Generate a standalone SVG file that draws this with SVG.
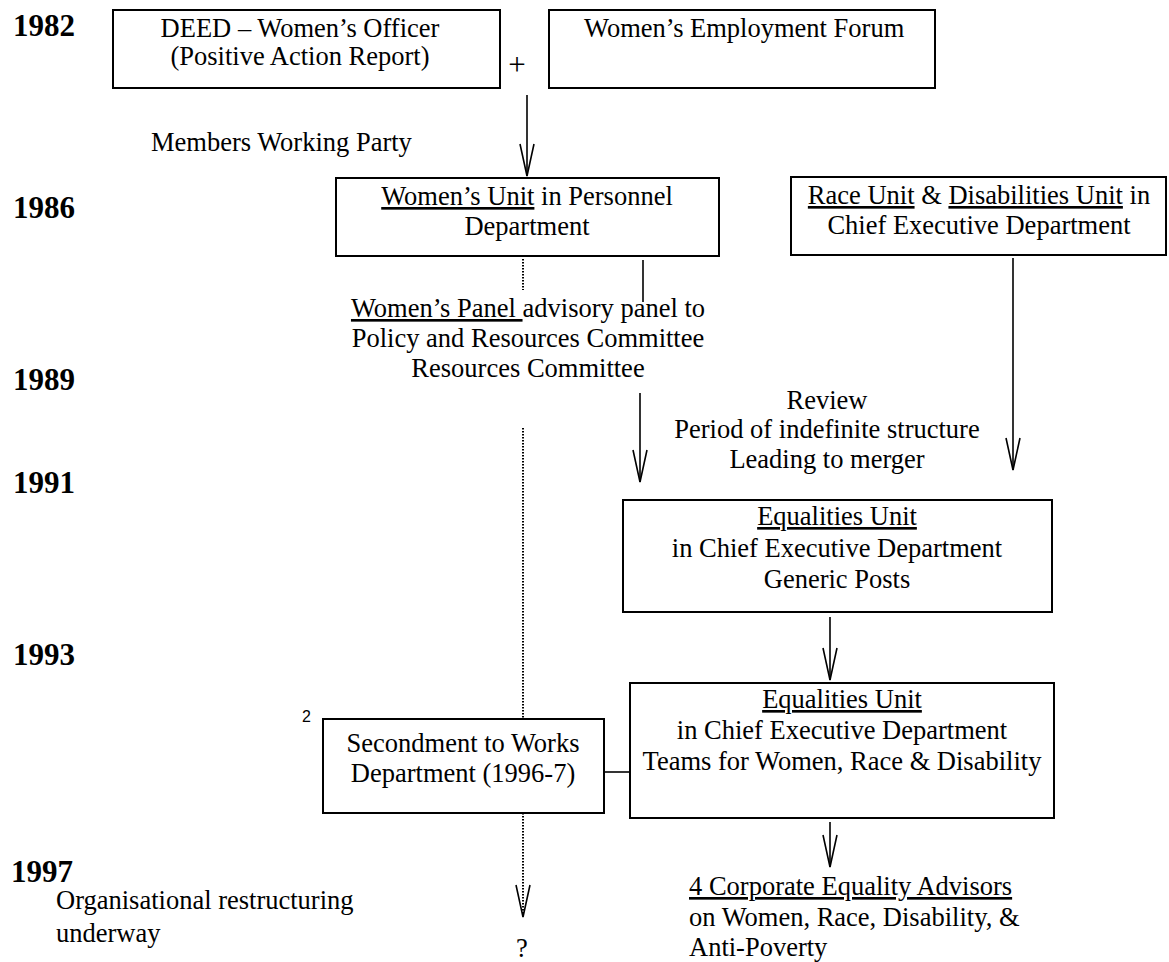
<svg xmlns="http://www.w3.org/2000/svg" width="1169" height="962" viewBox="0 0 1169 962">
  <defs>
    <style>
      .t { font-family: "Liberation Serif", "Times New Roman", serif; font-size: 26.5px; fill: #000; }
      .c { text-anchor: middle; }
      .yr { font-family: "Liberation Serif", "Times New Roman", serif; font-size: 31px; font-weight: bold; fill: #000; }
      .u { text-decoration: underline; }
      .box { fill: #fff; stroke: #000; stroke-width: 2; }
      .ln { fill: none; stroke: #000; stroke-width: 1.6; }
      .dot { fill: none; stroke: #000; stroke-width: 2; stroke-dasharray: 1.5 1.5; }
      .arr { marker-end: url(#vee); }
    </style>
    <!-- open V arrowhead -->
    <marker id="vee" viewBox="0 0 32 14" markerWidth="32" markerHeight="14" refX="32" refY="7" orient="auto" markerUnits="userSpaceOnUse" overflow="visible">
      <path d="M0,0 L32,7 L0,14" fill="none" stroke="#000" stroke-width="1.6"/>
    </marker>
  </defs>

  <rect width="1169" height="962" fill="#fff"/>

  <!-- year labels -->
  <g id="years">
    <text class="yr" x="13" y="36">1982</text>
    <text class="yr" x="13" y="218">1986</text>
    <text class="yr" x="13" y="390">1989</text>
    <text class="yr" x="13" y="493">1991</text>
    <text class="yr" x="13" y="665">1993</text>
    <text class="yr" x="11" y="882">1997</text>
  </g>

  <!-- connectors -->
  <g id="connectors">
    <line class="ln arr" x1="527" y1="95" x2="527" y2="176"/>
    <line class="dot" x1="523" y1="259" x2="523" y2="290"/>
    <line class="ln" x1="643" y1="260" x2="643" y2="302"/>
    <line class="ln arr" x1="640" y1="393" x2="640" y2="482"/>
    <line class="ln arr" x1="1013" y1="258" x2="1013" y2="470"/>
    <line class="dot" x1="523" y1="428" x2="523" y2="719"/>
    <line class="ln arr" x1="830" y1="617" x2="830" y2="680"/>
    <line class="ln" x1="604" y1="772" x2="630" y2="772"/>
    <line class="dot arr" x1="523" y1="813" x2="523" y2="917"/>
    <line class="ln arr" x1="830" y1="822" x2="830" y2="867"/>
  </g>

  <g id="deed">
    <rect class="box" x="113" y="10" width="387" height="78"/>
    <text class="t c" x="300" y="37">DEED – Women’s Officer</text>
    <text class="t c" x="300" y="65">(Positive Action Report)</text>
  </g>

  <g id="plus">
    <text class="c" x="517" y="75" font-family="Liberation Serif, Times New Roman, serif" font-size="31">+</text>
  </g>

  <g id="forum">
    <rect class="box" x="549" y="10" width="386" height="78"/>
    <text class="t" x="584" y="37">Women’s Employment Forum</text>
  </g>

  <g id="members-working-party">
    <text class="t" x="151" y="151">Members Working Party</text>
  </g>

  <g id="womens-unit">
    <rect class="box" x="336" y="178" width="383" height="78"/>
    <text class="t c" x="527" y="205"><tspan class="u">Women’s Unit</tspan> in Personnel</text>
    <text class="t c" x="527" y="235">Department</text>
  </g>

  <g id="race-disabilities-unit">
    <rect class="box" x="791" y="177" width="375" height="78"/>
    <text class="t c" x="979" y="204"><tspan class="u">Race Unit</tspan> &amp; <tspan class="u">Disabilities Unit</tspan> in</text>
    <text class="t c" x="979" y="234">Chief Executive Department</text>
  </g>

  <g id="womens-panel">
    <text class="t c" x="528" y="317"><tspan class="u">Women’s Panel </tspan>advisory panel to</text>
    <text class="t c" x="528" y="347">Policy and Resources Committee</text>
    <text class="t c" x="528" y="377">Resources Committee</text>
  </g>

  <g id="review">
    <text class="t c" x="827" y="409">Review</text>
    <text class="t c" x="827" y="438">Period of indefinite structure</text>
    <text class="t c" x="827" y="468">Leading to merger</text>
  </g>

  <g id="equalities-1991">
    <rect class="box" x="623" y="500" width="429" height="112"/>
    <text class="t c" x="837" y="525"><tspan class="u">Equalities Unit</tspan></text>
    <text class="t c" x="837" y="557">in Chief Executive Department</text>
    <text class="t c" x="837" y="588">Generic Posts</text>
  </g>

  <g id="equalities-1993">
    <rect class="box" x="630" y="683" width="424" height="135"/>
    <text class="t c" x="842" y="708"><tspan class="u">Equalities Unit</tspan></text>
    <text class="t c" x="842" y="739">in Chief Executive Department</text>
    <text class="t c" x="842" y="770">Teams for Women, Race &amp; Disability</text>
  </g>

  <g id="secondment">
    <text x="302" y="722" font-family="Liberation Sans, Arial, sans-serif" font-size="16">2</text>
    <rect class="box" x="323" y="719" width="281" height="94"/>
    <text class="t c" x="463" y="752">Secondment to Works</text>
    <text class="t c" x="463" y="782">Department (1996-7)</text>
  </g>

  <g id="restructuring">
    <text class="t" x="56" y="909">Organisational restructuring</text>
    <text class="t" x="56" y="942">underway</text>
  </g>

  <g id="unknown">
    <text class="t c" x="522" y="957">?</text>
  </g>

  <g id="corporate-advisors">
    <text class="t" x="689" y="895"><tspan class="u">4 Corporate Equality Advisors</tspan></text>
    <text class="t" x="689" y="926">on Women, Race, Disability, &amp;</text>
    <text class="t" x="689" y="956">Anti-Poverty</text>
  </g>
</svg>
